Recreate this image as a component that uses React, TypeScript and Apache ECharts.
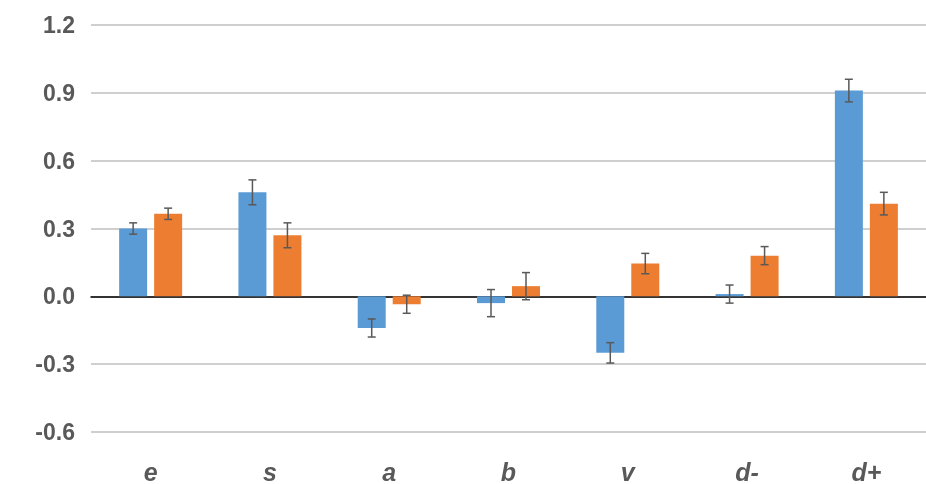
import * as echarts from "echarts";
import { useEffect, useRef } from "react";

const categories = ["e", "s", "a", "b", "v", "d-", "d+"];
const blueValues = [0.3, 0.46, -0.14, -0.03, -0.25, 0.01, 0.91];
const blueErrors = [0.025, 0.055, 0.04, 0.06, 0.045, 0.04, 0.05];
const orangeValues = [0.365, 0.27, -0.035, 0.045, 0.145, 0.18, 0.41];
const orangeErrors = [0.025, 0.055, 0.04, 0.06, 0.045, 0.04, 0.05];

function errorSeries(values: number[], errors: number[], shift: number) {
  return {
    type: "custom",
    xAxisIndex: 0,
    data: values.map((v, i) => [i, v - errors[i], v + errors[i]]),
    z: 10,
    renderItem: (_params: any, api: any) => {
      const lo = api.coord([api.value(0), api.value(1)]);
      const hi = api.coord([api.value(0), api.value(2)]);
      const x = lo[0] + shift;
      const style = { stroke: "#595959", lineWidth: 1.5 };
      return {
        type: "group",
        children: [
          { type: "line", shape: { x1: x, y1: lo[1], x2: x, y2: hi[1] }, style },
          { type: "line", shape: { x1: x - 4, y1: lo[1], x2: x + 4, y2: lo[1] }, style },
          { type: "line", shape: { x1: x - 4, y1: hi[1], x2: x + 4, y2: hi[1] }, style },
        ],
      };
    },
  };
}

export default function App() {
  const chartRef = useRef<HTMLDivElement>(null);

  useEffect(() => {
    if (!chartRef.current) return;
    const chart = echarts.init(chartRef.current, null, { renderer: "svg" });

    chart.setOption({
      animation: false,
      grid: { left: 91, right: 0, top: 25, bottom: 51 },
      xAxis: [
        {
          type: "category",
          data: categories,
          axisLine: { onZero: true, lineStyle: { color: "#000", width: 1.5 } },
          axisTick: { show: false },
          axisLabel: { show: false },
        },
        {
          type: "category",
          data: categories,
          position: "bottom",
          axisLine: { show: false },
          axisTick: { show: false },
          axisLabel: {
            margin: 27,
            fontSize: 25,
            fontWeight: "bold",
            fontStyle: "italic",
            fontFamily: "Liberation Sans",
            color: "#595959",
          },
        },
      ],
      yAxis: {
        type: "value",
        min: -0.6,
        max: 1.2,
        interval: 0.3,
        axisLine: { show: false },
        axisTick: { show: false },
        splitLine: { lineStyle: { color: "#bfbfbf", width: 1.5 } },
        axisLabel: {
          formatter: (v: number) => v.toFixed(1),
          fontSize: 23,
          fontWeight: "bold",
          fontFamily: "Liberation Sans",
          color: "#595959",
          margin: 16,
        },
      },
      series: [
        {
          type: "bar",
          data: blueValues,
          barWidth: 28,
          barGap: "25%",
          itemStyle: { color: "#5B9BD5" },
        },
        {
          type: "bar",
          data: orangeValues,
          barWidth: 28,
          barGap: "25%",
          itemStyle: { color: "#ED7D31" },
        },
        errorSeries(blueValues, blueErrors, -17.5),
        errorSeries(orangeValues, orangeErrors, 17.5),
      ],
    });

    return () => {
      chart.dispose();
    };
  }, []);

  return (
    <div
      ref={chartRef}
      style={{ position: "fixed", left: 0, top: 0, width: 926, height: 484 }}
    />
  );
}
